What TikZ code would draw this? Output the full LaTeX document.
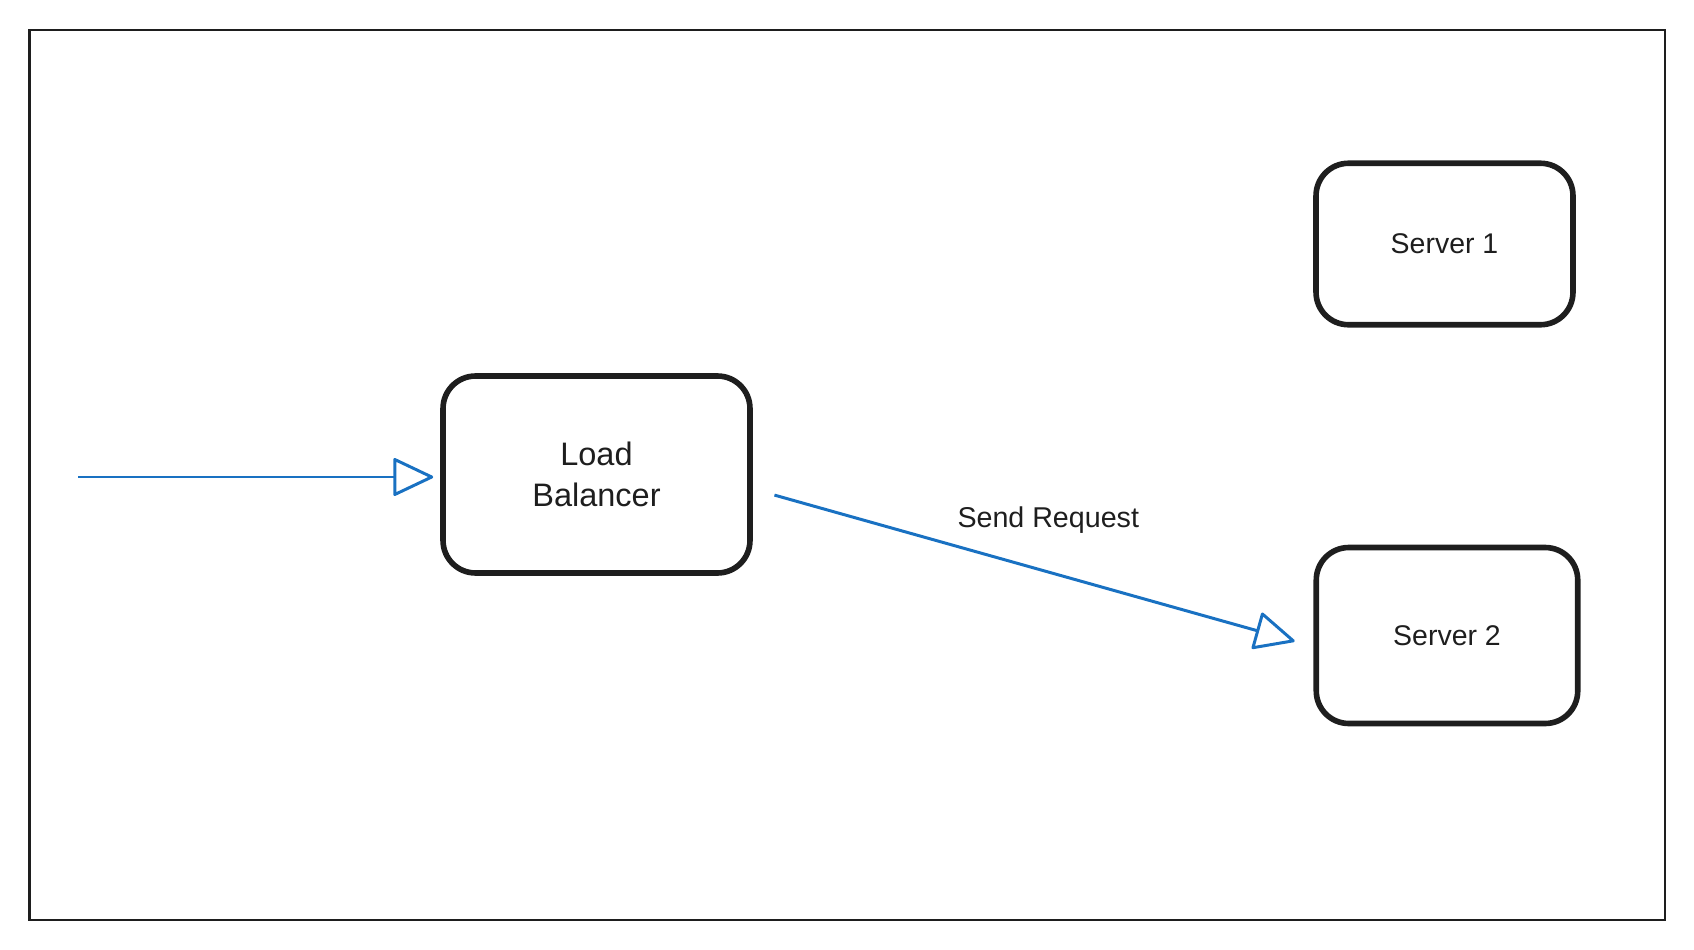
\documentclass[tikz,border=0pt]{standalone}
\usepackage{fontspec}
\setmainfont{Liberation Sans}
\usetikzlibrary{positioning,calc,arrows.meta}
\definecolor{ink}{HTML}{1E1E1E}
\definecolor{flowblue}{HTML}{1971C2}

\begin{document}
\begin{tikzpicture}[x=0.02cm, y=-0.02cm,
    box/.style={draw=ink, line width=3.2pt, rounded corners=0.65cm, align=center, text=ink},
    flow/.style={draw=flowblue, line width=1.7pt, -{Triangle[open, round, length=0.84cm, width=0.78cm]}},
  ]
    \useasboundingbox (0,0) rectangle (1694,950);
    % Frame
    \draw[ink, line width=1.4pt] (29.5,30) rectangle (1665,920);

    % Balancer and servers
    \node[box, minimum width=6.14cm, minimum height=3.94cm, font=\fontsize{18.5}{23}\selectfont] (lb) at (596.5,474.5) {Load\\Balancer};
    \node[box, minimum width=5.14cm, minimum height=3.23cm, font=\fontsize{16.2}{19}\selectfont] (srv1) at (1444.5,244) {Server 1};
    \node[box, minimum width=5.23cm, minimum height=3.52cm, font=\fontsize{16.2}{19}\selectfont] (srv2) at (1447,635.5) {Server 2};

    % Incoming traffic
    \coordinate (in) at (78,477);
    \draw[flow, shorten >=0.14cm] (in) -- (in -| lb.west);

    % Request to server 2
    \draw[flow, shorten <=0.45cm, shorten >=0.39cm] ($(lb.east)+(0,14.5)$) -- ($(srv2.west)+(0,11)$)
        node[pos=0.527, yshift=1.03cm, text=ink, font=\fontsize{16.3}{19}\selectfont] (req) {Send Request};
\end{tikzpicture}
\end{document}
